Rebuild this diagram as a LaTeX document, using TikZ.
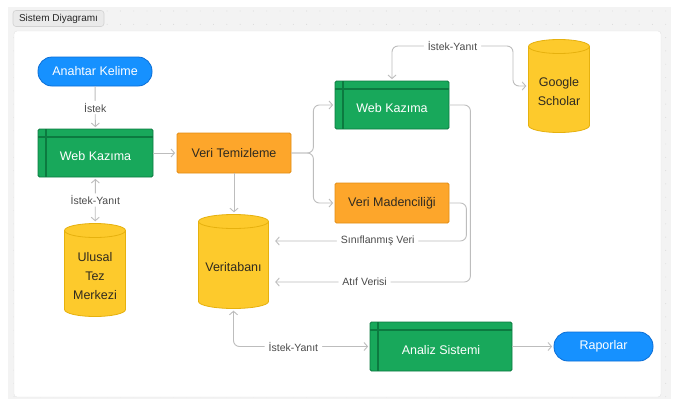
\documentclass[tikz,border=0pt]{standalone}
\usepackage{fontspec}
\setmainfont{Liberation Sans}
\usetikzlibrary{arrows.meta,calc}
\definecolor{bggray}{HTML}{F3F3F3}
\definecolor{dotgray}{HTML}{D2D2D2}
\definecolor{panelline}{HTML}{E4E4E4}
\definecolor{tagfill}{HTML}{EAEAEA}
\definecolor{tagline}{HTML}{D2D2D2}
\definecolor{bluebox}{HTML}{1691FF}
\definecolor{bluedark}{HTML}{0B6ED6}
\definecolor{greenbox}{HTML}{18A85B}
\definecolor{greendark}{HTML}{0C7A40}
\definecolor{orangebox}{HTML}{FDA62B}
\definecolor{orangedark}{HTML}{E38D14}
\definecolor{yellowbox}{HTML}{FDCA2C}
\definecolor{yellowdark}{HTML}{E6B10E}
\definecolor{textdark}{HTML}{2F2A20}
\definecolor{labeltext}{HTML}{4A4A4A}
\definecolor{linegray}{HTML}{BDBDBD}
\begin{document}
\begin{tikzpicture}
  [x=1pt,y=-1pt,
   every node/.style={font=\fontsize{12.5}{19}\selectfont, inner sep=0pt},
   pill/.style={draw=bluedark, fill=bluebox, text=white, rounded corners=14pt, line width=0.8pt},
   procbox/.style={draw=greendark, fill=greenbox, text=white, rounded corners=1.5pt, line width=0.8pt,
     text height=15pt, text depth=0pt,
     path picture={
       \draw[greendark, line width=1.4pt] ([yshift=-8pt]path picture bounding box.north west) -- ([yshift=-8pt]path picture bounding box.north east);
       \draw[greendark, line width=1.4pt] ([xshift=8pt]path picture bounding box.north west) -- ([xshift=8pt]path picture bounding box.south west);}},
   stepbox/.style={draw=orangedark, fill=orangebox, text=textdark, rounded corners=1.5pt, line width=0.8pt},
   dbase/.style={
     path picture={
       \filldraw[fill=yellowbox, draw=yellowdark, line width=0.8pt]
         let \p1=(path picture bounding box.north west), \p2=(path picture bounding box.south east),
             \n1={(\x2-\x1)/2-0.5pt} in
         ({\x1+0.5pt},{\y1-7.5pt}) -- ({\x1+0.5pt},{\y2+7.5pt})
         arc[start angle=180, end angle=360, x radius=\n1, y radius=7pt]
         -- ({\x2-0.5pt},{\y1-7.5pt})
         arc[start angle=0, end angle=180, x radius=\n1, y radius=7pt] -- cycle;
       \draw[yellowdark, line width=0.8pt]
         let \p1=(path picture bounding box.north west), \p2=(path picture bounding box.south east),
             \n1={(\x2-\x1)/2-0.5pt} in
         ({\x1+0.5pt},{\y1-7.5pt}) arc[start angle=180, end angle=360, x radius=\n1, y radius=7pt];}},
   dbtext/.style={text=textdark, align=center, yshift=-6pt},
   tagbox/.style={draw=tagline, fill=tagfill, rounded corners=3pt, text=black!85, line width=0.6pt,
     font=\fontsize{10}{11}\selectfont, minimum width=91pt, minimum height=16pt},
   lbl/.style={font=\fontsize{10.5}{12}\selectfont, text=labeltext, fill=white, inner xsep=4pt, inner ysep=2pt},
   conn/.style={draw=linegray, line width=0.9pt, rounded corners=6pt, shorten >=1.5pt,
     -{Straight Barb[length=3.5pt,width=8pt]}},
   twoway/.style={{Straight Barb[length=3.5pt,width=8pt]}-{Straight Barb[length=3.5pt,width=8pt]}, shorten <=1.5pt}]

  \useasboundingbox (0,0) rectangle (682,399);
  \fill[bggray] (8,7) rectangle (671,399);
  \foreach \i in {0,...,49}
    \foreach \j in {0,...,29}
      \fill[dotgray] (\i*13.3+14,\j*13.3+11) circle (0.45pt);
  \filldraw[fill=white, draw=panelline, rounded corners=3pt] (14,31) rectangle (661,397);
  \node[tagbox] (title) at (58.5,18.5) {Sistem Diyagramı};

  \node[pill, minimum width=114pt, minimum height=29pt] (anahtar) at (95,71.5) {Anahtar Kelime};
  \node[procbox, minimum width=115pt, minimum height=48pt] (kazima1) at (95.5,153) {Web Kazıma};
  \node[dbase, minimum width=62pt, minimum height=94pt, label={[dbtext]center:{Ulusal\\Tez\\Merkezi}}] (ulusal) at (95,270) {};
  \node[stepbox, minimum width=114pt, minimum height=40pt] (temizleme) at (234,153) {Veri Temizleme};
  \node[dbase, minimum width=71pt, minimum height=95pt, label={[dbtext]center:Veritabanı}] (veritabani) at (233.5,261.5) {};
  \node[procbox, minimum width=114pt, minimum height=48pt] (kazima2) at (392,105) {Web Kazıma};
  \node[stepbox, minimum width=114pt, minimum height=40pt] (madencilik) at (392,203) {Veri Madenciliği};
  \node[dbase, minimum width=62pt, minimum height=94pt, label={[dbtext]center:{Google\\Scholar}}] (scholar) at (559,86) {};
  \node[procbox, minimum width=142pt, minimum height=49pt] (analiz) at (441,346.5) {Analiz Sistemi};
  \node[pill, minimum width=99pt, minimum height=29pt] (raporlar) at (603.5,346.5) {Raporlar};

  \draw[conn] (anahtar) -- node[lbl]{İstek} (kazima1);
  \draw[conn,twoway] (kazima1) -- node[lbl]{İstek-Yanıt} (ulusal);
  \foreach \from/\to in {kazima1/temizleme, analiz/raporlar}
    \draw[conn] (\from) -- (\to);
  \draw[conn] (temizleme.south) -- (temizleme.south |- veritabani.north);
  \foreach \to in {kazima2, madencilik}
    \draw[conn] (temizleme.east) -- ++(22,0) |- (\to.west);
  \draw[conn,twoway] (kazima2.north) |- node[lbl,pos=0.75]{İstek-Yanıt} (513,46) |- (scholar.west);
  \draw[conn,shorten >=6pt] (madencilik.east) -- ++(17,0) |- node[lbl,pos=0.725]{Sınıflanmış Veri} (veritabani.east |- 0,241);
  \draw[conn,shorten >=6pt] (kazima2.east) -- ++(21,0) |- node[lbl,pos=0.763]{Atıf Verisi} (veritabani.east |- 0,282);
  \draw[conn,twoway] (veritabani.south) |- node[lbl,pos=0.72]{İstek-Yanıt} (analiz.west);
\end{tikzpicture}
\end{document}
